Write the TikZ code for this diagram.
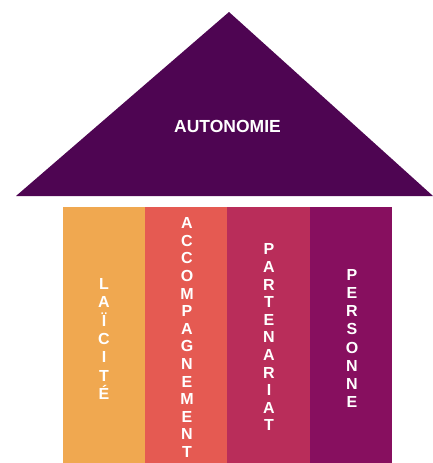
\documentclass[tikz,border=0pt]{standalone}
\usepackage{fontspec}
\setmainfont{Liberation Sans}
\definecolor{toit}{HTML}{4E0552}
\definecolor{laic}{HTML}{F0A850}
\definecolor{accomp}{HTML}{E55A52}
\definecolor{parten}{HTML}{B92D5A}
\definecolor{perso}{HTML}{870F5F}
\begin{document}
\begin{tikzpicture}[x=1pt,y=-1pt]

      \tikzset{pillar/.style={inner sep=0pt, minimum width=82.25pt, minimum height=256pt},
               letters/.style={text=white, align=center, inner sep=0pt, font=\bfseries\fontsize{16}{17.6}\selectfont}}
      \useasboundingbox (0,0) rectangle (432,463);
% Toit
	\coordinate (apex) at (229,12);
	\coordinate (eaveL) at (16,196);
	\coordinate (eaveR) at (433,196);
	\fill[toit] (apex) -- (eaveL) -- (eaveR) -- cycle;
	\node[text=white, inner sep=0pt, font=\bfseries\fontsize{17.5}{20}\selectfont] (roof) at (227.5,126.5) {AUTONOMIE};
% Piliers
	\node[pillar, fill=laic] (p1) at (104.1,335) {};
	\node[pillar, fill=accomp] (p2) at (186.4,335) {};
	\node[pillar, fill=parten] (p3) at (268.6,335) {};
	\node[pillar, fill=perso] (p4) at (350.9,335) {};
% Mots
	\node[letters, font=\bfseries\fontsize{16}{18.3}\selectfont] (w1) at (104,339) {L\\A\\Ï\\C\\I\\T\\É};
	\node[letters] (w2) at (187,337.5) {A\\C\\C\\O\\M\\P\\A\\G\\N\\E\\M\\E\\N\\T};
	\node[letters] (w3) at (269,337.4) {P\\A\\R\\T\\E\\N\\A\\R\\I\\A\\T};
	\node[letters, font=\bfseries\fontsize{16}{18.1}\selectfont] (w4) at (352,338.5) {P\\E\\R\\S\\O\\N\\N\\E};

\end{tikzpicture}
\end{document}
